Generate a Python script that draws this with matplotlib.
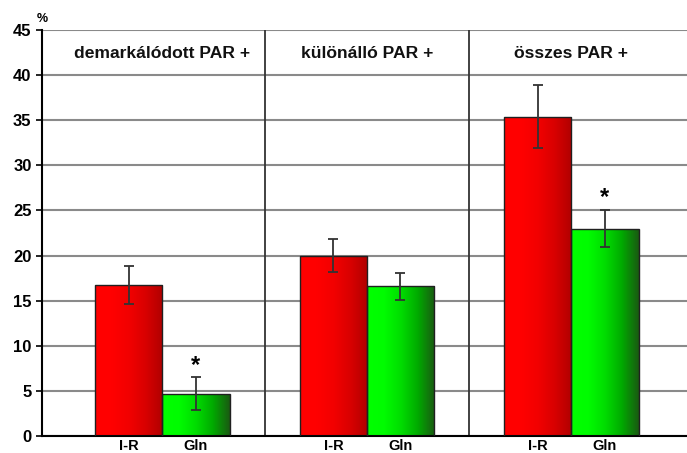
import numpy as np
import matplotlib
matplotlib.use("Agg")
import matplotlib.pyplot as plt
from matplotlib.colors import LinearSegmentedColormap

# Data
groups = ["demarkálódott PAR +", "különálló PAR +", "összes PAR +"]
ir_values = [16.7, 20.0, 35.4]
ir_errors = [2.1, 1.8, 3.5]
gln_values = [4.7, 16.6, 23.0]
gln_errors = [1.8, 1.5, 2.1]
gln_signif = [True, False, True]
bar_labels = ["I-R", "Gln"]

plt.rcParams["font.family"] = ["Liberation Sans", "DejaVu Sans"]

fig = plt.figure(figsize=(6.87, 4.53), dpi=100)
ax = fig.add_axes([0.0611, 0.0375, 0.9389, 0.8962])

x = np.arange(len(groups))
width = 0.328

red_cmap = LinearSegmentedColormap.from_list(
    "red", ["#ff0000", "#ff0000", "#f20000", "#d80000", "#b00000"])
green_cmap = LinearSegmentedColormap.from_list(
    "green", ["#00ff00", "#00fc00", "#00dd00", "#00aa00", "#1a5a12"])
grad = np.linspace(0, 1, 256).reshape(1, -1)


def gradient_bars(xpos, heights, cmap):
    bars = ax.bar(xpos, heights, width, color="none", edgecolor="#202020",
                  linewidth=1.0, zorder=3)
    for b in bars:
        x0, y0 = b.get_x(), b.get_y()
        im = ax.imshow(grad, cmap=cmap, aspect="auto", zorder=2,
                       extent=[x0, x0 + b.get_width(), y0, y0 + b.get_height()])
        im.set_clip_path(b)
    return bars


gradient_bars(x - width / 2, ir_values, red_cmap)
gradient_bars(x + width / 2, gln_values, green_cmap)

ax.errorbar(x - width / 2, ir_values, yerr=ir_errors, fmt="none",
            ecolor="#333333", elinewidth=1.3, capsize=3.5, capthick=1.3, zorder=4)
ax.errorbar(x + width / 2, gln_values, yerr=gln_errors, fmt="none",
            ecolor="#333333", elinewidth=1.3, capsize=3.5, capthick=1.3, zorder=4)

# significance stars
for i in range(len(groups)):
    if gln_signif[i]:
        ax.text(x[i] + width / 2, gln_values[i] + gln_errors[i] + 1.3, "*",
                ha="center", va="center", fontsize=17, fontweight="bold")

# group titles and separators
for i, g in enumerate(groups):
    ax.text(x[i], 42.4, g, ha="center", va="center", fontsize=12.6,
            fontweight="bold", color="#111111")
for i in range(len(groups) - 1):
    ax.plot([x[i] + 0.5, x[i] + 0.5], [0, 45], color="#333333", lw=1.3, zorder=1)

ax.set_xlim(-0.589, 2.565)
ax.set_ylim(0, 45)
ax.set_yticks(np.arange(0, 46, 5))
ax.yaxis.grid(True, color="#8a8a8a", lw=1.5)
ax.set_axisbelow(True)

ticks = np.concatenate([x - width / 2, x + width / 2])
ax.set_xticks(ticks)
ax.set_xticklabels([bar_labels[0]] * 3 + [bar_labels[1]] * 3)
ax.tick_params(axis="x", length=0, pad=2, labelsize=10.5)
ax.tick_params(axis="y", length=4, width=1.2, direction="out", labelsize=12)
for lbl in ax.get_xticklabels() + ax.get_yticklabels():
    lbl.set_fontweight("bold")

for s in ["top", "right"]:
    ax.spines[s].set_visible(False)
ax.spines["left"].set_linewidth(1.5)
ax.spines["bottom"].set_linewidth(1.5)

ax.text(0.0, 1.027, "%", transform=ax.transAxes, ha="center", va="center",
        fontsize=9, fontweight="bold")

fig.savefig("out.png", dpi=100)
